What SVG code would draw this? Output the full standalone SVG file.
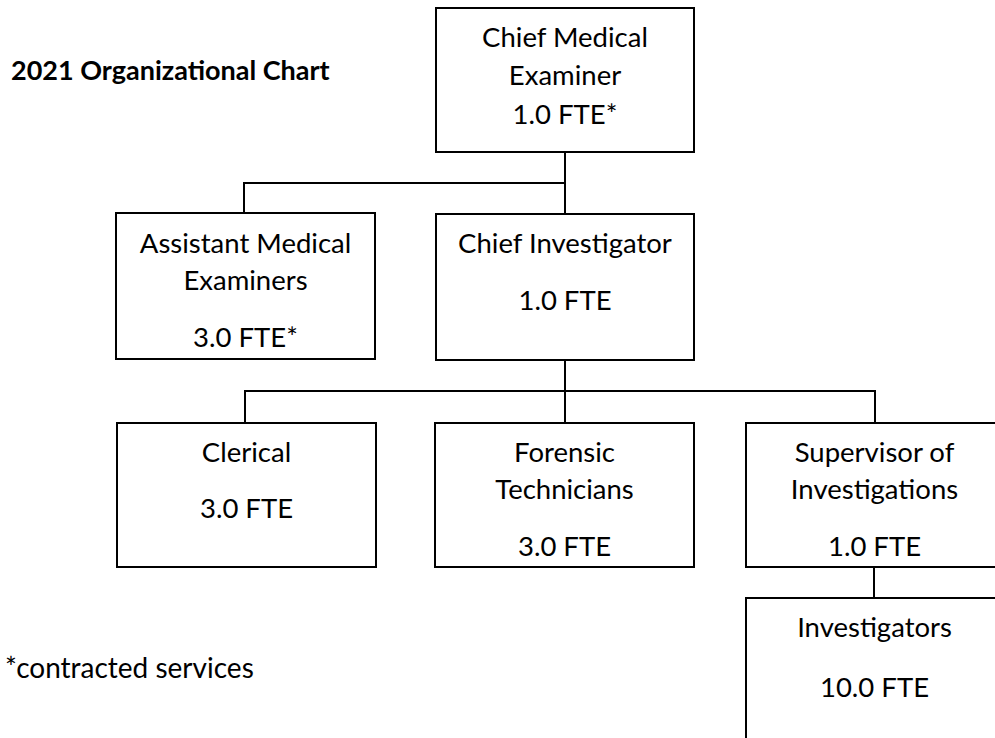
<svg xmlns="http://www.w3.org/2000/svg" width="995" height="738" viewBox="0 0 995 738">
<style>
.box{fill:#fff;stroke:#000;stroke-width:2}
.t{font-family:Lato,"Open Sans","Liberation Sans",sans-serif;font-size:27.5px;fill:#000;text-anchor:middle}
.conn{fill:none;stroke:#000;stroke-width:2}
.title{font-family:Lato,"Open Sans","Liberation Sans",sans-serif;font-size:27px;font-weight:bold;fill:#000}
.note{font-family:Lato,"Open Sans","Liberation Sans",sans-serif;font-size:28px;fill:#000}
</style>
<rect width="995" height="738" fill="#fff"/>
<text class="title" x="11" y="80">2021 Organizational Chart</text>
<text class="note" x="5" y="678">*contracted services</text>
<g id="connectors">
<path class="conn" d="M565 153 V183 H244 V213 M565 183 V214"/>
<path class="conn" d="M565 360 V391 H245 V423 M565 391 V423 M565 391 H875 V423"/>
<path class="conn" d="M874 567 V598"/>
</g>
<g id="chief-medical-examiner">
<rect class="box" x="436" y="8" width="258" height="144"/>
<text class="t" x="565" y="47">Chief Medical</text>
<text class="t" x="565" y="85">Examiner</text>
<text class="t" x="565" y="124">1.0 FTE*</text>
</g>
<g id="assistant-medical-examiners">
<rect class="box" x="116" y="213" width="259" height="146"/>
<text class="t" x="245.5" y="253">Assistant Medical</text>
<text class="t" x="245.5" y="290">Examiners</text>
<text class="t" x="245.5" y="347">3.0 FTE*</text>
</g>
<g id="chief-investigator">
<rect class="box" x="436" y="214" width="258" height="146"/>
<text class="t" x="565" y="253">Chief Investigator</text>
<text class="t" x="565" y="310">1.0 FTE</text>
</g>
<g id="clerical">
<rect class="box" x="117" y="423" width="259" height="144"/>
<text class="t" x="246.5" y="462">Clerical</text>
<text class="t" x="246.5" y="518">3.0 FTE</text>
</g>
<g id="forensic-technicians">
<rect class="box" x="435" y="423" width="259" height="144"/>
<text class="t" x="564.5" y="462">Forensic</text>
<text class="t" x="564.5" y="499">Technicians</text>
<text class="t" x="564.5" y="556">3.0 FTE</text>
</g>
<g id="supervisor-of-investigations">
<rect class="box" x="746" y="423" width="258" height="144"/>
<text class="t" x="874.5" y="462">Supervisor of</text>
<text class="t" x="874.5" y="499">Investigations</text>
<text class="t" x="874.5" y="556">1.0 FTE</text>
</g>
<g id="investigators">
<rect class="box" x="746" y="598" width="258" height="160"/>
<text class="t" x="874.5" y="637">Investigators</text>
<text class="t" x="874.5" y="697">10.0 FTE</text>
</g>
</svg>
